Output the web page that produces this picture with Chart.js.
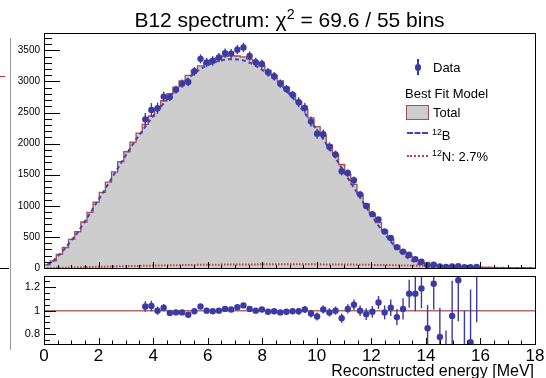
<!DOCTYPE html>
<html lang="en">
<head>
<meta charset="UTF-8">
<title>B12 spectrum</title>
<script src="https://cdn.jsdelivr.net/npm/chart.js"></script>
<style>
    body { margin: 0; background: #fff; font-family: "Liberation Sans", Arial, sans-serif; }
    #wrap { position: relative; width: 546px; height: 378px; overflow: hidden; background: #fff; }
    #mainBox { position: absolute; left: 0; top: 0; width: 546px; height: 272px; }
    #ratioBox { position: absolute; left: 0; top: 272px; width: 546px; height: 106px; background: #fff; }
    .txt { position: absolute; white-space: nowrap; color: #000; line-height: 1; }
    sup { font-size: 0.68em; vertical-align: 0; position: relative; top: -0.55em; line-height: 0; }
    #title { left: 44px; width: 491px; top: 9px; text-align: center; font-size: 21px; }
    #xTitle { right: 12px; top: 363px; font-size: 16px; }
    .leg { font-size: 13px; }
    .swatch { position: absolute; }
    /* pieces of the neighbouring pad on the left edge */
    .edge { position: absolute; }
</style>
</head>
<body>
<div id="wrap">
    <div id="mainBox"><canvas id="mainChart" width="546" height="272"></canvas></div>
    <div id="ratioBox"><canvas id="ratioChart" width="546" height="106"></canvas></div>

    <div class="txt" id="title">B12 spectrum: &chi;<sup>2</sup> = 69.6 / 55 bins</div>
    <div class="txt" id="xTitle">Reconstructed energy [MeV]</div>

    <!-- legend -->
    <div class="swatch" style="left:417px; top:59px; width:1.5px; height:16px; background:#3b3ba6;"></div>
    <div class="swatch" style="left:414.5px; top:64px; width:6.5px; height:6.5px; border-radius:50%; background:#3b3ba6;"></div>
    <div class="txt leg" style="left:433px; top:61px;">Data</div>
    <div class="txt leg" style="left:405px; top:87px;">Best Fit Model</div>
    <div class="swatch" style="left:406px; top:105px; width:21px; height:13px; background:#cdcdcd; border:1.5px solid #a85050;"></div>
    <div class="txt leg" style="left:433px; top:106px;">Total</div>
    <div class="swatch" style="left:407px; top:132px; width:21px; height:0; border-top:2px dashed #4444b8;"></div>
    <div class="txt leg" style="left:432px; top:129px;"><sup>12</sup>B</div>
    <div class="swatch" style="left:407px; top:155px; width:21px; height:0; border-top:2px dotted #c04040;"></div>
    <div class="txt leg" style="left:432px; top:150px;"><sup>12</sup>N: 2.7%</div>

    <div class="edge" style="left:10px; top:38px; width:1px; height:312px; background:#9a9a9a;"></div>
    <div class="edge" style="left:0; top:76px; width:5px; height:1px; background:#c03030;"></div>
    <div class="edge" style="left:0; top:268px; width:9px; height:1px; background:#000;"></div>
</div>

<script>
    // histogram binning: 80 bins of 0.225 MeV between 0 and 18 MeV
    const binWidth = 0.225;
    const xMin = 0, xMax = 18;
    const mainYTicks = [0, 500, 1000, 1500, 2000, 2500, 3000, 3500];
    const ratioYTicks = [0.8, 1, 1.2];

    // best fit model, counts per bin
    const totalModel = [
        50, 115, 220, 330, 460, 585, 740, 895, 1060, 1215,
        1380, 1545, 1710, 1870, 2025, 2170, 2310, 2445, 2570, 2690,
        2805, 2910, 3010, 3100, 3180, 3250, 3305, 3350, 3385, 3405,
        3415, 3410, 3395, 3360, 3310, 3250, 3180, 3100, 3010, 2910,
        2800, 2680, 2550, 2415, 2275, 2130, 1980, 1825, 1665, 1505,
        1345, 1185, 1030, 875, 730, 595, 470, 355, 260, 185,
        125, 84, 56, 42, 33, 29, 25, 22, 19, 16,
        13, 10, 8, 5, 3, 1, 0, 0, 0, 0
    ];
    const b12Model = [
        50, 113, 216, 324, 451, 574, 726, 879, 1041, 1194,
        1357, 1519, 1682, 1840, 1993, 2136, 2274, 2407, 2530, 2648,
        2761, 2865, 2963, 3052, 3130, 3199, 3253, 3297, 3331, 3350,
        3359, 3353, 3338, 3302, 3252, 3191, 3121, 3041, 2950, 2850,
        2740, 2620, 2491, 2356, 2216, 2072, 1922, 1768, 1609, 1450,
        1291, 1132, 978, 825, 681, 548, 424, 311, 218, 145,
        87, 48, 22, 10, 4, 2, 1, 0, 0, 0,
        0, 0, 0, 0, 0, 0, 0, 0, 0, 0
    ];
    const n12Model = [
        0, 2, 4, 6, 9, 11, 14, 16, 19, 21,
        23, 26, 28, 30, 32, 34, 36, 38, 40, 42,
        44, 45, 47, 48, 50, 51, 52, 53, 54, 55,
        56, 57, 57, 58, 58, 59, 59, 59, 60, 60,
        60, 60, 59, 59, 59, 58, 58, 57, 56, 55,
        54, 53, 52, 50, 49, 47, 46, 44, 42, 40,
        38, 36, 34, 32, 29, 27, 24, 22, 19, 16,
        13, 10, 8, 5, 3, 1, 0, 0, 0, 0
    ];

    // data: 55 fitted bins starting at bin 16 (3.6 MeV)
    const firstDataBin = 16;
    const dataCounts = [
        2391, 2543, 2570, 2757, 2749, 2866, 2965, 2992, 3164, 3364,
        3305, 3333, 3385, 3456, 3449, 3512, 3548, 3410, 3310, 3283,
        3148, 3085, 2965, 2881, 2786, 2667, 2576, 2355, 2161, 2151,
        1950, 1825, 1557, 1528, 1412, 1185, 999, 866, 781, 586,
        482, 335, 264, 212, 143, 100, 48, 52, 26, 16,
        24, 28, 11, 12, 18
    ];
    const dataErrors = [
        104, 110, 90, 81, 62, 64, 66, 68, 70, 72,
        73, 74, 74, 75, 75, 75, 75, 74, 73, 72,
        70, 68, 66, 64, 62, 80, 77, 80, 80, 75,
        69, 64, 67, 60, 61, 53, 52, 44, 40, 36,
        33, 25, 23, 22, 19, 14, 11, 9, 8, 8,
        8, 8, 8, 7, 6
    ];
    // data / model
    const ratioValues = [
        1.035, 1.04, 1.00, 1.025, 0.98, 0.985, 0.985, 0.965, 0.995, 1.035,
        1.0, 0.995, 1.0, 1.015, 1.01, 1.03, 1.045, 1.015, 1.0, 1.01,
        0.99, 0.995, 0.985, 0.99, 0.995, 0.995, 1.01, 0.975, 0.95, 1.01,
        0.985, 1.0, 0.935, 1.015, 1.05, 1.0, 0.97, 0.99, 1.07, 0.985,
        1.025, 0.945, 1.015, 1.145, 1.145, 1.19, 0.85, 1.23, 0.775, 0.55,
        0.955, 1.26, 0.6, 0.73, 1.35
    ];
    const ratioErrors = [
        0.045, 0.045, 0.035, 0.03, 0.022, 0.022, 0.022, 0.022, 0.022, 0.022,
        0.022, 0.022, 0.022, 0.022, 0.022, 0.022, 0.022, 0.022, 0.022, 0.022,
        0.022, 0.022, 0.022, 0.022, 0.022, 0.03, 0.03, 0.033, 0.035, 0.035,
        0.035, 0.035, 0.04, 0.04, 0.045, 0.045, 0.05, 0.05, 0.055, 0.06,
        0.07, 0.07, 0.09, 0.12, 0.15, 0.17, 0.2, 0.22, 0.25, 0.28,
        0.3, 0.35, 0.4, 0.45, 0.45
    ];

    const dataColor = '#3b3ba6';
    Chart.defaults.font.family = '"Liberation Sans", Arial, sans-serif';
    Chart.defaults.color = '#000';

    const center = i => (i + 0.5) * binWidth;

    // stepped outline of the total model, from bin edges
    const totalSteps = [{ x: xMin, y: 0 }];
    totalModel.forEach((v, i) => totalSteps.push({ x: i * binWidth, y: v }));
    totalSteps.push({ x: xMax, y: totalModel[totalModel.length - 1] });
    totalSteps.push({ x: xMax, y: 0 });

    const b12Line = b12Model.map((v, i) => ({ x: center(i), y: v }));
    const n12Line = n12Model.map((v, i) => ({ x: center(i), y: v }));
    const dataPts = dataCounts.map((v, i) => ({ x: center(firstDataBin + i), y: v }));
    const ratioPts = ratioValues.map((v, i) => ({ x: center(firstDataBin + i), y: v }));

    // keep the frame where it is, whatever the tick labels need
    function fixBox(s, w, h) {
        if (w) s.width = w;
        if (h) s.height = h;
        s.paddingTop = 0; s.paddingBottom = 0;
        s.paddingLeft = 0; s.paddingRight = 0;
    }

    // vertical error bars, clipped to the frame
    const errorBars = {
        id: 'errorBars',
        afterDatasetsDraw(chart) {
            const { ctx, chartArea: a, scales: { x, y } } = chart;
            ctx.save();
            ctx.beginPath();
            ctx.rect(a.left, a.top, a.right - a.left, a.bottom - a.top);
            ctx.clip();
            chart.data.datasets.forEach(ds => {
                if (!ds.errors) return;
                ctx.strokeStyle = ds.pointBackgroundColor;
                ctx.lineWidth = 1.4;
                ds.data.forEach((p, i) => {
                    const px = x.getPixelForValue(p.x);
                    ctx.beginPath();
                    ctx.moveTo(px, y.getPixelForValue(p.y - ds.errors[i]));
                    ctx.lineTo(px, y.getPixelForValue(p.y + ds.errors[i]));
                    ctx.stroke();
                });
            });
            ctx.restore();
        }
    };

    // ROOT style frame with tick marks pointing inwards
    const rootAxes = {
        id: 'rootAxes',
        afterDraw(chart, args, o) {
            const { ctx, chartArea: a, scales: { x, y } } = chart;
            ctx.save();
            ctx.strokeStyle = '#000';
            ctx.lineWidth = 1;
            ctx.beginPath();
            const kx = Math.round((x.max - x.min) / o.xMinor);
            for (let k = 0; k <= kx; k++) {
                const px = Math.round(x.getPixelForValue(x.min + k * o.xMinor)) + 0.5;
                const len = k % o.xEvery === 0 ? o.xMajorLen : o.xMinorLen;
                ctx.moveTo(px, a.bottom);
                ctx.lineTo(px, a.bottom - len);
            }
            const k0 = Math.ceil(y.min / o.yMinor - 1e-9);
            const k1 = Math.floor(y.max / o.yMinor + 1e-9);
            for (let k = k0; k <= k1; k++) {
                const py = Math.round(y.getPixelForValue(k * o.yMinor)) + 0.5;
                const len = k % o.yEvery === 0 ? o.yMajorLen : o.yMinorLen;
                ctx.moveTo(a.left, py);
                ctx.lineTo(a.left + len, py);
            }
            ctx.stroke();
            ctx.strokeRect(Math.round(a.left) + 0.5, Math.round(a.top) + 0.5,
                Math.round(a.right - a.left), Math.round(a.bottom - a.top));
            ctx.restore();
        }
    };

    new Chart(document.getElementById('mainChart'), {
        type: 'line',
        data: {
            datasets: [
                {
                    label: 'Data', data: dataPts, errors: dataErrors, showLine: false,
                    pointRadius: 3.2, pointBackgroundColor: dataColor, pointBorderWidth: 0, order: 0
                },
                {
                    label: '12B', data: b12Line, borderColor: '#4444b8', borderWidth: 2,
                    borderDash: [4, 3], pointRadius: 0, cubicInterpolationMode: 'monotone', order: 1
                },
                {
                    label: '12N', data: n12Line, borderColor: '#c04040', borderWidth: 2,
                    borderDash: [1.5, 1.5], pointRadius: 0, order: 2
                },
                {
                    label: 'Total', data: totalSteps, stepped: 'before', borderColor: 'rgba(160,50,50,0.85)',
                    borderWidth: 1.3, backgroundColor: '#cdcdcd', fill: 'origin', pointRadius: 0, order: 3
                }
            ]
        },
        options: {
            responsive: false,
            animation: false,
            layout: { padding: { top: 33, right: 11, bottom: 1, left: 0 } },
            plugins: {
                legend: { display: false },
                tooltip: { enabled: false },
                rootAxes: { xMinor: 0.5, xEvery: 4, xMajorLen: 6, xMinorLen: 3,
                            yMinor: 100, yEvery: 5, yMajorLen: 16, yMinorLen: 8 }
            },
            scales: {
                x: { type: 'linear', min: xMin, max: xMax, display: false },
                y: {
                    min: 0, max: 3780,
                    afterFit(s) { fixBox(s, 44, 0); },
                    afterBuildTicks(s) { s.ticks = mainYTicks.map(v => ({ value: v })); },
                    grid: { display: false, drawTicks: false },
                    border: { display: false },
                    ticks: { padding: 4, font: { size: 10 }, callback: v => String(v) }
                }
            }
        },
        plugins: [errorBars, rootAxes]
    });

    new Chart(document.getElementById('ratioChart'), {
        type: 'line',
        data: {
            datasets: [
                {
                    label: 'Data / Model', data: ratioPts, errors: ratioErrors, showLine: false,
                    pointRadius: 3.2, pointBackgroundColor: dataColor, pointBorderWidth: 0, order: 0
                },
                {
                    label: 'unity', data: [{ x: xMin, y: 1 }, { x: xMax, y: 1 }],
                    borderColor: '#b56a6a', borderWidth: 1.5, pointRadius: 0, order: 1
                }
            ]
        },
        options: {
            responsive: false,
            animation: false,
            layout: { padding: { top: 1, right: 11, bottom: 0, left: 0 } },
            plugins: {
                legend: { display: false },
                tooltip: { enabled: false },
                rootAxes: { xMinor: 0.5, xEvery: 4, xMajorLen: 6, xMinorLen: 3.5,
                            yMinor: 0.05, yEvery: 4, yMajorLen: 12, yMinorLen: 6 }
            },
            scales: {
                x: {
                    type: 'linear', min: xMin, max: xMax,
                    afterFit(s) { fixBox(s, 0, 34); },
                    grid: { display: false, drawTicks: false },
                    border: { display: false },
                    ticks: { stepSize: 2, autoSkip: false, maxRotation: 0, padding: 2, font: { size: 17 } }
                },
                y: {
                    min: 0.715, max: 1.296,
                    afterFit(s) { fixBox(s, 44, 0); },
                    afterBuildTicks(s) { s.ticks = ratioYTicks.map(v => ({ value: v })); },
                    grid: { display: false, drawTicks: false },
                    border: { display: false },
                    ticks: { padding: 4, font: { size: 11 }, callback: v => String(+v.toFixed(2)) }
                }
            }
        },
        plugins: [errorBars, rootAxes]
    });
</script>
</body>
</html>
